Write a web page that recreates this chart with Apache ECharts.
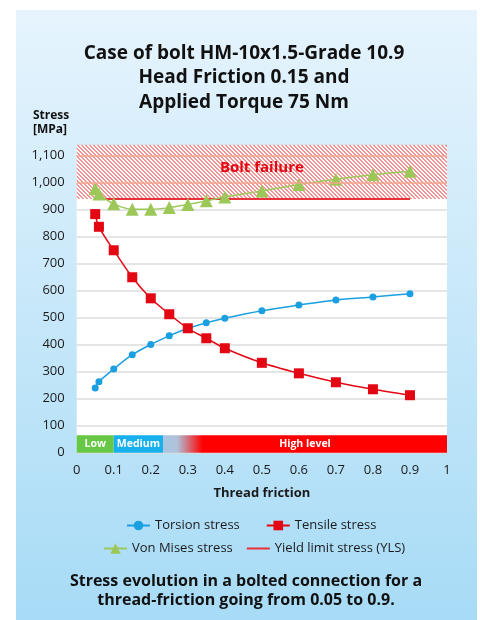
<!DOCTYPE html>
<html><head><meta charset="utf-8">
<script src="https://cdn.jsdelivr.net/npm/echarts@6/dist/echarts.min.js"></script>
<style>html,body{margin:0;padding:0;background:#fff}#c{width:480px;height:620px}</style>
</head><body><div id="c"></div>
<script>
const friction = [0.05, 0.06, 0.1, 0.15, 0.2, 0.25, 0.3, 0.35, 0.4, 0.5, 0.6, 0.7, 0.8, 0.9];
const torsion = [240, 263, 310, 363, 401, 433, 461, 481, 498, 526, 547, 566, 577, 589];
const tensile = [884, 837, 750, 650, 572, 513, 461, 424, 387, 333, 294, 261, 235, 213];
const vonMises = [978, 958, 922, 902, 902, 908, 920, 933, 947, 970, 994, 1013, 1030, 1043];
const ylsValue = 940;
const ylsRange = [0.05, 0.9];
const failureTop = 1140;
const failureLines = [1000, 1100];
const bands = [
  {name: 'Low', from: 0, to: 0.1},
  {name: 'Medium', from: 0.1, to: 0.233},
  {name: 'High level', from: 0.233, to: 1}
];
const bandHeight = 65;

const FONT = '"Open Sans", "Noto Sans", sans-serif';
function pair(xs, ys){ return xs.map((x,i)=>[x, ys[i]]); }

// hatch pattern
const pc = document.createElement('canvas');
pc.width = 4; pc.height = 4;
const px = pc.getContext('2d');
px.fillStyle = '#ffffff'; px.fillRect(0,0,4,4);
px.fillStyle = '#f39494';
for (let y=0;y<4;y++){ px.fillRect(y%4, y, 1, 1); px.fillRect((y+1)%4, y, 1, 1); }

const bandColors = [
  '#66c844',
  '#16b0ec',
  {type:'linear', x:0, y:0, x2:1, y2:0, colorStops:[
    {offset:0, color:'#a8c6e0'}, {offset:0.05, color:'#b0c2da'}, {offset:0.14, color:'#ff0000'}, {offset:1, color:'#ff0000'}]}
];

const chart = echarts.init(document.getElementById('c'), null, {renderer:'canvas'});
chart.setOption({
  animation: false,
  textStyle: {fontFamily: FONT},
  graphic: [
    {type:'rect', z:-10, shape:{x:16, y:10, width:461, height:610},
     style:{fill:{type:'linear', x:0, y:0, x2:0, y2:1, colorStops:[{offset:0,color:'#e6f4fd'},{offset:1,color:'#a7dbf6'}]}}},
    {type:'text', x:244, y:41, z:10, style:{text:'Case of bolt HM-10x1.5-Grade 10.9\nHead Friction 0.15 and\nApplied Torque 75 Nm',
      fill:'#111', font:'bold 19px '+FONT, textAlign:'center', lineHeight:24.5}},
    {type:'text', left:33, top:109, z:10, style:{text:'Stress\n[MPa]', fill:'#111', font:'bold 12px '+FONT, lineHeight:14}},
    {type:'text', x:246, y:572, z:10, style:{text:'Stress evolution in a bolted connection for a\nthread-friction going from 0.05 to 0.9.',
      fill:'#111', font:'bold 16px '+FONT, textAlign:'center', lineHeight:19}}
  ],
  grid: {left:76.7, right:33, top:145, bottom:167.3, show:true, backgroundColor:'#ffffff', borderWidth:0},
  xAxis: {type:'value', min:0, max:1, interval:0.1,
    axisLine:{show:false}, axisTick:{show:false}, splitLine:{show:false},
    axisLabel:{color:'#1a1a1a', fontSize:13, margin:11, fontFamily:FONT},
    name:'Thread friction', nameLocation:'middle', nameGap:34,
    nameTextStyle:{color:'#1a1a1a', fontSize:13, fontWeight:'bold', fontFamily:FONT}},
  yAxis: {type:'value', min:0, max:failureTop, interval:100,
    axisLine:{show:false}, axisTick:{show:false},
    splitLine:{lineStyle:{color:'#dcdcdc', width:1.5}},
    axisLabel:{color:'#1a1a1a', fontSize:13, margin:12, fontFamily:FONT, showMaxLabel:false,
      formatter: v => (v % 100 === 0) ? v.toLocaleString('en-US') : ''}},
  legend: [
    {left:121, top:514, itemWidth:23, itemHeight:12, itemGap:26, data:['Torsion stress','Tensile stress'],
     textStyle:{color:'#1a1a1a', fontSize:13, fontFamily:FONT}},
    {left:98, top:537, itemWidth:23, itemHeight:13, itemGap:14,
     data:['Von Mises stress', {name:'Yield limit stress (YLS)', icon:'path://M0,0H23V2H0Z'}],
     textStyle:{color:'#1a1a1a', fontSize:13, fontFamily:FONT}}
  ],
  series: [
    {name:'failure', type:'line', data:[], z:1, silent:true,
     markArea:{silent:true, itemStyle:{color:{image:pc, repeat:'repeat'}},
       label:{show:true, position:'inside', color:'#e30613', fontSize:15, fontWeight:'bold', fontFamily:FONT, offset:[0,-4]},
       data:[[{name:'Bolt failure', xAxis:0, yAxis:ylsValue}, {xAxis:1, yAxis:failureTop}]]},
     markLine:{silent:true, symbol:'none', label:{show:false}, lineStyle:{color:'#f6a48c', width:1.5, type:'solid'},
       data: failureLines.map(v=>({yAxis:v}))}},
    {name:'bands', type:'line', data:[], z:1, silent:true,
     markArea:{silent:true,
       label:{show:true, position:'inside', color:'#ffffff', fontSize:10.5, fontWeight:'bold', fontFamily:FONT},
       data: bands.map((b,i)=>[{name:b.name, xAxis:b.from, yAxis:0, itemStyle:{color:bandColors[i]}}, {xAxis:b.to, yAxis:bandHeight}])}},
    {name:'Yield limit stress (YLS)', type:'line', z:3, symbol:'none', color:'#e8303a',
     lineStyle:{color:'#e8303a', width:2}, data: ylsRange.map(x=>[x, ylsValue])},
    {name:'Torsion stress', type:'line', z:4, smooth:0.3, symbol:'circle', symbolSize:7, color:'#1a9fe0',
     lineStyle:{width:1.5}, data: pair(friction, torsion)},
    {name:'Tensile stress', type:'line', z:4, smooth:0.3, symbol:'rect', symbolSize:10, color:'#e30613',
     lineStyle:{width:1.5}, data: pair(friction, tensile)},
    {name:'Von Mises stress', type:'line', z:4, smooth:0.3, symbol:'triangle', symbolSize:13, color:'#9cc85a',
     lineStyle:{width:1.5}, data: pair(friction, vonMises)}
  ]
});
</script></body></html>
